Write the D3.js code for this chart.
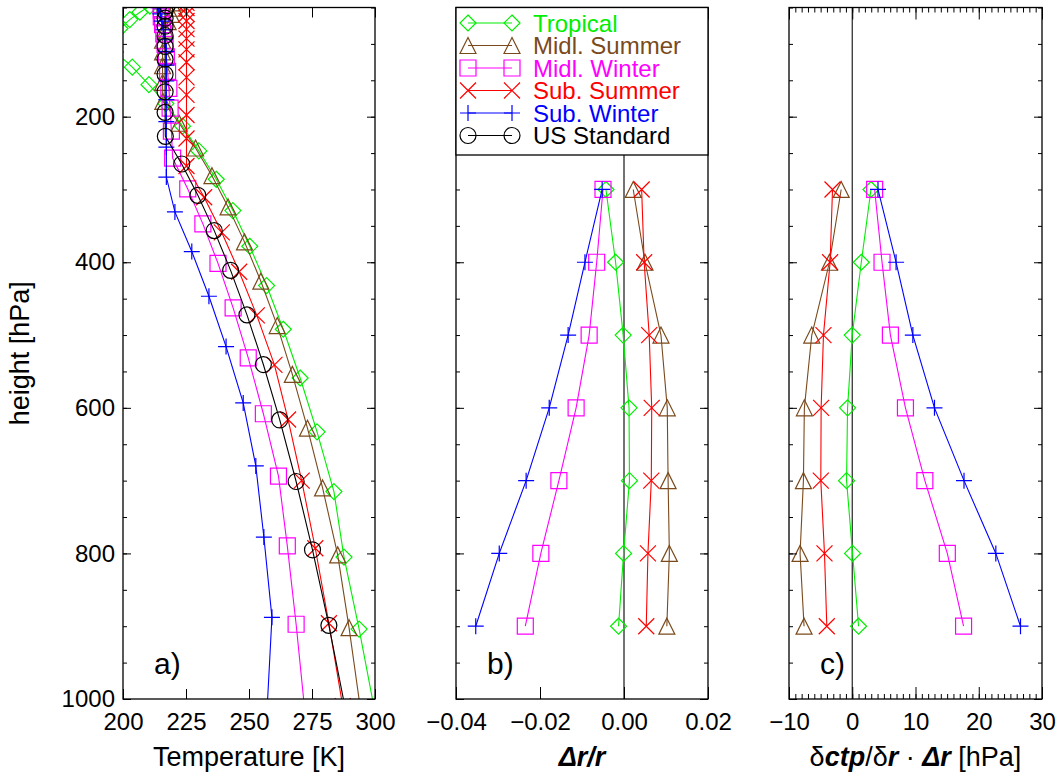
<!DOCTYPE html>
<html><head><meta charset="utf-8">
<script src="https://cdn.jsdelivr.net/npm/d3@7"></script>
<style>
body{margin:0;background:#fff}
svg{display:block}
text{font-family:"Liberation Sans",Arial,Helvetica,sans-serif}
</style>
</head><body>
<svg id="chart" width="1058" height="772"></svg>
<script>
// ---------- DATA ----------
const seriesNames   = ["Tropical","Midl. Summer","Midl. Winter","Sub. Summer","Sub. Winter","US Standard"];
const seriesColors  = ["#00ee00","#7a4a1c","#ff00ff","#ff0000","#0000ff","#000000"];
const seriesSymbols = ["diamond","triangle","square","x","plus","circle"];

// panel a: temperature profiles (pressure [hPa], temperature [K])
const pTropical = [1013,904,805,715,633,559,492,432,378,329,286,247,213,182,156,132,111,93.7,78.9,66.6,56.5,48.0];
const tTropical = [299.7,293.7,287.7,283.7,277.0,270.3,263.6,257.0,250.3,243.6,237.0,230.1,223.6,217.0,210.3,203.7,197.0,194.8,198.8,202.7,206.7,210.7];
const pMidlSummer = [1013,902,802,710,628,554,487,426,372,324,281,243,209,179,153,130,111,95.0,81.2,69.5,59.5,51.0,43.7];
const tMidlSummer = [294.2,289.7,285.2,279.2,273.2,267.2,261.2,254.7,248.2,241.7,235.3,228.8,222.3,215.8,215.7,215.7,215.7,215.7,216.8,217.9,219.2,220.4,221.6];
const pMidlWinter = [1018,897.3,789.7,693.8,608.1,531.3,462.7,401.6,347.3,299.3,256.8,219.9,188.2,161.0,137.8,117.8,100.7,86.1,73.6,62.8,53.7,45.8];
const tMidlWinter = [272.2,268.7,265.2,261.7,255.7,249.7,243.7,237.7,231.7,225.7,219.7,219.2,218.7,218.2,217.7,217.2,216.7,216.2,215.7,215.2,215.2,215.2];
const pSubSummer = [1010,896,792.9,700,616,541,473,413,359,310.7,267.7,230,197.7,170,146,125.2,107.5,92.8,79.8,68.6,58.9,50.7,43.6];
const tSubSummer = [287.2,281.7,276.3,270.9,265.5,260.1,253.1,246.1,239.2,232.2,225.2,225.2,225.2,225.2,225.2,225.2,225.2,225.2,225.2,225.2,225.2,225.2,225.2];
const pSubWinter = [1013,887.8,777.5,679.8,593.2,515.8,446.7,385.3,330.8,282.9,241.8,206.7,176.6,151,129.1,110.3,94.31,80.58,68.82,58.75,50.14,42.77];
const tSubWinter = [257.2,259.1,255.9,252.7,247.7,240.9,234.1,227.3,220.6,217.2,217.2,217.2,217.2,217.2,217.2,217.2,216.6,216.0,215.4,214.8,214.1,213.6];
const pUSStandard = [1013,898.8,795,701.2,616.6,540.5,472.2,411.1,356.5,308,265,227,194,165.8,141.7,121.1,103.5,88.5,75.65,64.67,55.29,47.29];
const tUSStandard = [288.2,281.7,275.2,268.7,262.2,255.7,249.2,242.7,236.2,229.7,223.3,216.8,216.7,216.7,216.7,216.7,216.7,216.7,216.7,216.7,216.7,217.6];

// panels b and c: pressure levels
const levelsBC = [300,400,500,600,700,800,900];
// panel b: relative change dr/r
const drTropical   = [-0.0043,-0.0020,-0.0002,0.0012,0.0013,-0.0001,-0.0013];
const drMidlSummer = [0.0022,0.0050,0.0088,0.0103,0.0105,0.0108,0.0102];
const drMidlWinter = [-0.0050,-0.0065,-0.0083,-0.0114,-0.0155,-0.0198,-0.0235];
const drSubSummer  = [0.0042,0.0048,0.0060,0.0066,0.0065,0.0057,0.0053];
const drSubWinter  = [-0.0052,-0.0093,-0.0133,-0.0178,-0.0233,-0.0297,-0.0353];
// panel c: dctp/dr * dr [hPa]
const dcTropical   = [2.96,1.43,0.0,-0.74,-0.90,0.05,1.0];
const dcMidlSummer = [-1.75,-3.6,-6.4,-7.57,-7.72,-8.25,-7.62];
const dcMidlWinter = [3.54,4.71,6.03,8.41,11.48,15.03,17.6];
const dcSubSummer  = [-3.12,-3.5,-4.55,-4.92,-4.97,-4.39,-4.02];
const dcSubWinter  = [4.07,6.93,9.58,13.0,17.67,22.7,26.6];

// tick values
const yMajorTicks = [200,400,600,800,1000];
const yMinorTicks = d3.range(50,1001,50);
const xTicksA = [200,225,250,275,300];
const xTicksB = [-0.04,-0.02,0.00,0.02];
const xTicksC = [-10,0,10,20,30];
const xMinorC = d3.range(-10,31,1);

// ---------- LAYOUT ----------
const svg = d3.select("#chart");
const yTop = 7.5, yBot = 699;
const panels = {
  a:{x0:123,x1:375}, b:{x0:456,x1:708}, c:{x0:789,x1:1042}
};
const y = d3.scaleLinear().domain([50,1000]).range([yTop,yBot]);
const xA = d3.scaleLinear().domain([200,300]).range([panels.a.x0,panels.a.x1]);
const xB = d3.scaleLinear().domain([-0.04,0.02]).range([panels.b.x0,panels.b.x1]);
const xC = d3.scaleLinear().domain([-10,30]).range([panels.c.x0,panels.c.x1]);

const FS = 24, FT = 27;

function symPath(type, s){
  switch(type){
    case "diamond": return `M0,${-s}L${s},0L0,${s}L${-s},0Z`;
    case "triangle": return `M0,${-s}L${s},${s}L${-s},${s}Z`;
    case "square": return `M${-s},${-s}H${s}V${s}H${-s}Z`;
    case "x": return `M${-s},${-s}L${s},${s}M${-s},${s}L${s},${-s}`;
    case "plus": return `M${-s},0H${s}M0,${-s}V${s}`;
    case "circle": return `M${s},0A${s},${s} 0 1,1 ${-s},0A${s},${s} 0 1,1 ${s},0Z`;
  }
}

// clip paths
const defs = svg.append("defs");
Object.entries(panels).forEach(([k,p])=>{
  defs.append("clipPath").attr("id","clip-"+k)
    .append("rect").attr("x",p.x0).attr("y",yTop).attr("width",p.x1-p.x0).attr("height",yBot-yTop);
});

function drawSeries(g, xs, ys, xScale, color, sym){
  const pts = xs.map((v,i)=>[xScale(v), y(ys[i])]);
  g.append("path").attr("d", d3.line()(pts))
    .attr("fill","none").attr("stroke",color).attr("stroke-width",1.1);
  g.selectAll(null).data(pts).enter().append("path")
    .attr("transform",d=>`translate(${d[0]},${d[1]})`)
    .attr("d",symPath(sym,8))
    .attr("fill","none").attr("stroke",color).attr("stroke-width",1.2);
}

function yAxes(p, labels){
  const gl = svg.append("g").attr("transform",`translate(${p.x0},0)`);
  gl.call(d3.axisLeft(y).tickValues(yMinorTicks).tickSizeInner(-4).tickSizeOuter(0).tickFormat(""));
  gl.call(g=>g.select(".domain").remove());
  const gl2 = svg.append("g").attr("transform",`translate(${p.x0},0)`);
  gl2.call(d3.axisLeft(y).tickValues(yMajorTicks).tickSizeInner(-8).tickSizeOuter(0).tickPadding(8)
    .tickFormat(labels ? d3.format("d") : ""));
  gl2.call(g=>g.select(".domain").remove());
  gl2.selectAll("text").attr("font-size",FS).attr("font-family","Liberation Sans, Arial, sans-serif").attr("fill","#000");
  const gr = svg.append("g").attr("transform",`translate(${p.x1},0)`);
  gr.call(d3.axisRight(y).tickValues(yMinorTicks).tickSizeInner(-4).tickSizeOuter(0).tickFormat(""));
  gr.call(g=>g.select(".domain").remove());
  const gr2 = svg.append("g").attr("transform",`translate(${p.x1},0)`);
  gr2.call(d3.axisRight(y).tickValues(yMajorTicks).tickSizeInner(-8).tickSizeOuter(0).tickFormat(""));
  gr2.call(g=>g.select(".domain").remove());
}

function xAxes(xScale, ticks, fmt, len){
  const gb = svg.append("g").attr("transform",`translate(0,${yBot})`);
  gb.call(d3.axisBottom(xScale).tickValues(ticks).tickSizeInner(-len).tickSizeOuter(0).tickPadding(14).tickFormat(fmt));
  gb.call(g=>g.select(".domain").remove());
  gb.selectAll("text").attr("font-size",FS).attr("font-family","Liberation Sans, Arial, sans-serif").attr("fill","#000");
  const gt = svg.append("g").attr("transform",`translate(0,${yTop})`);
  gt.call(d3.axisTop(xScale).tickValues(ticks).tickSizeInner(-len).tickSizeOuter(0).tickFormat(""));
  gt.call(g=>g.select(".domain").remove());
}
function xMinor(xScale, ticks, len){
  const gb = svg.append("g").attr("transform",`translate(0,${yBot})`);
  gb.call(d3.axisBottom(xScale).tickValues(ticks).tickSizeInner(-len).tickSizeOuter(0).tickFormat(""));
  gb.call(g=>g.select(".domain").remove());
  const gt = svg.append("g").attr("transform",`translate(0,${yTop})`);
  gt.call(d3.axisTop(xScale).tickValues(ticks).tickSizeInner(-len).tickSizeOuter(0).tickFormat(""));
  gt.call(g=>g.select(".domain").remove());
}

// ---------- PANEL A ----------
const gA = svg.append("g").attr("clip-path","url(#clip-a)");
const profP = [pTropical,pMidlSummer,pMidlWinter,pSubSummer,pSubWinter,pUSStandard];
const profT = [tTropical,tMidlSummer,tMidlWinter,tSubSummer,tSubWinter,tUSStandard];
profT.forEach((t,i)=>drawSeries(gA, t, profP[i], xA, seriesColors[i], seriesSymbols[i]));

// ---------- PANEL B ----------
const gB = svg.append("g").attr("clip-path","url(#clip-b)");
gB.append("line").attr("x1",xB(0)).attr("x2",xB(0)).attr("y1",yTop).attr("y2",yBot)
  .attr("stroke","#444").attr("stroke-width",1.5);
const drAll = [drTropical,drMidlSummer,drMidlWinter,drSubSummer,drSubWinter];
drAll.forEach((d,i)=>drawSeries(gB, d, levelsBC, xB, seriesColors[i], seriesSymbols[i]));

// ---------- PANEL C ----------
const gC = svg.append("g").attr("clip-path","url(#clip-c)");
gC.append("line").attr("x1",xC(0)).attr("x2",xC(0)).attr("y1",yTop).attr("y2",yBot)
  .attr("stroke","#222").attr("stroke-width",1.2);
const dcAll = [dcTropical,dcMidlSummer,dcMidlWinter,dcSubSummer,dcSubWinter];
dcAll.forEach((d,i)=>drawSeries(gC, d, levelsBC, xC, seriesColors[i], seriesSymbols[i]));

// ---------- AXES ----------
yAxes(panels.a, true);
yAxes(panels.b, false);
yAxes(panels.c, false);
xAxes(xA, xTicksA, d3.format("d"), 10);
xAxes(xB, xTicksB, d3.format(".2f"), 12);
xMinor(xC, xMinorC, 5);
xAxes(xC, xTicksC, d3.format("d"), 12);

// frames
Object.values(panels).forEach(p=>{
  svg.append("rect").attr("x",p.x0).attr("y",yTop).attr("width",p.x1-p.x0).attr("height",yBot-yTop)
    .attr("fill","none").attr("stroke","#000").attr("stroke-width",1.3);
});

// panel labels
[["a)",panels.a],["b)",panels.b],["c)",panels.c]].forEach(([t,p])=>{
  svg.append("text").attr("x",p.x0+31).attr("y",674).attr("font-size",30).text(t);
});

// axis titles
svg.append("text").attr("x",(panels.a.x0+panels.a.x1)/2).attr("y",766)
  .attr("text-anchor","middle").attr("font-size",FT).text("Temperature [K]");
const tb = svg.append("text").attr("x",(panels.b.x0+panels.b.x1)/2).attr("y",766)
  .attr("text-anchor","middle").attr("font-size",FT);
tb.append("tspan").attr("font-weight","bold").attr("font-style","italic").text("Δr/r");
const tc = svg.append("text").attr("x",(panels.c.x0+panels.c.x1)/2).attr("y",766)
  .attr("text-anchor","middle").attr("font-size",FT);
tc.append("tspan").text("δ");
tc.append("tspan").attr("font-weight","bold").attr("font-style","italic").text("ctp");
tc.append("tspan").text("/δ");
tc.append("tspan").attr("font-weight","bold").attr("font-style","italic").text("r");
tc.append("tspan").text(" · ");
tc.append("tspan").attr("font-weight","bold").attr("font-style","italic").text("Δr");
tc.append("tspan").text(" [hPa]");

svg.append("text").attr("transform",`translate(29,${(yTop+yBot)/2}) rotate(-90)`)
  .attr("text-anchor","middle").attr("font-size",FT).text("height [hPa]");

// ---------- LEGEND ----------
const lg = svg.append("g");
lg.append("rect").attr("x",panels.b.x0).attr("y",yTop).attr("width",panels.b.x1-panels.b.x0).attr("height",155-yTop)
  .attr("fill","#fff").attr("stroke","#000").attr("stroke-width",1.3);
seriesNames.forEach((name,i)=>{
  const ry = 23 + i*22.5;
  const c = seriesColors[i];
  lg.append("line").attr("x1",468).attr("x2",512).attr("y1",ry).attr("y2",ry)
    .attr("stroke",c).attr("stroke-width",1.1);
  [468,512].forEach(cx=>{
    lg.append("path").attr("transform",`translate(${cx},${ry})`).attr("d",symPath(seriesSymbols[i],8))
      .attr("fill","none").attr("stroke",c).attr("stroke-width",1.2);
  });
  lg.append("text").attr("x",533).attr("y",ry+8.5).attr("font-size",24).attr("fill",c).text(name);
});
</script>
</body></html>
